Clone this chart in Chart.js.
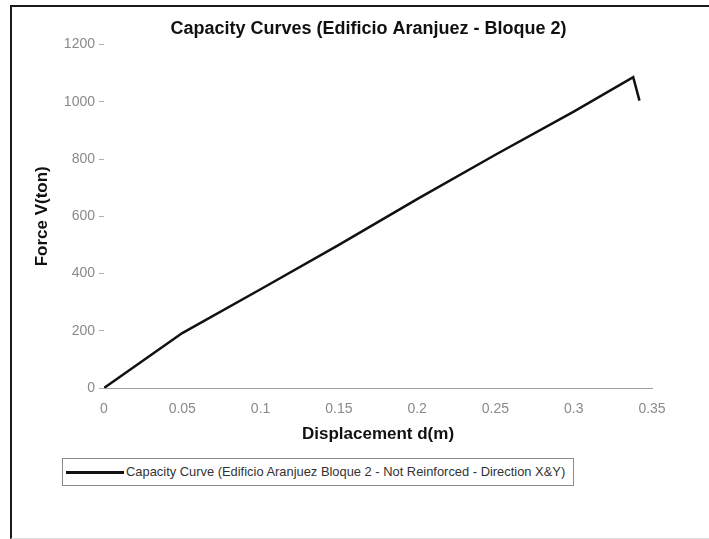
<!DOCTYPE html>
<html>
<head>
<meta charset="utf-8">
<title>Capacity Curves</title>
<script src="https://cdn.jsdelivr.net/npm/chart.js@4.4.0/dist/chart.umd.min.js"></script>
<style>
  body {
    margin: 0;
    width: 709px;
    height: 539px;
    overflow: hidden;
    position: relative;
    background: #fff;
    font-family: "Liberation Sans", Arial, sans-serif;
  }
  #frame {
    position: absolute;
    left: 10px;
    top: 5px;
    width: 699px;
    height: 531px;
    border-top: 2px solid #1a1a1a;
    border-left: 2px solid #1a1a1a;
    border-bottom: 1px solid #dcdcdc;
  }
  #chart { position: absolute; left: 0; top: 0; }
  #legend {
    position: absolute;
    left: 62px;
    top: 458px;
    width: 510px;
    height: 26px;
    border: 1px solid #8a8a8a;
    font-size: 12.9px;
    color: #333;
    line-height: 26px;
    white-space: nowrap;
  }
  #legend .swatch {
    display: inline-block;
    width: 58px;
    height: 3px;
    background: #111;
    vertical-align: middle;
    margin: 0 2px 0 3px;
  }
</style>
</head>
<body>
<div id="frame">
  <canvas id="chart" width="697" height="441"></canvas>
</div>
<div id="legend"></div>

<script>
// values
const displacement = [0, 0.05, 0.1, 0.15, 0.2, 0.25, 0.3, 0.338, 0.342];
const force = [0, 192, 345, 500, 660, 815, 966, 1086, 1004];

const xTicks = [0, 0.05, 0.1, 0.15, 0.2, 0.25, 0.3, 0.35];
const xTickLabels = ["0", "0.05", "0.1", "0.15", "0.2", "0.25", "0.3", "0.35"];
const yTicks = [0, 200, 400, 600, 800, 1000, 1200];
const yTickLabels = ["0", "200", "400", "600", "800", "1000", "1200"];

const seriesLabel = "Capacity Curve (Edificio Aranjuez Bloque 2 - Not Reinforced - Direction X&Y)";

const tickFont = { family: "Liberation Sans, Arial, sans-serif", size: 14 };
const tickColor = "#8a8a8a";

// legend drawn as a boxed html row, like the original
document.getElementById("legend").innerHTML =
  '<span class="swatch"></span>' + seriesLabel;

const ctx = document.getElementById("chart").getContext("2d");
new Chart(ctx, {
  type: "line",
  data: {
    datasets: [{
      label: seriesLabel,
      data: displacement.map((d, i) => ({ x: d, y: force[i] })),
      borderColor: "#111",
      borderWidth: 2.5,
      pointRadius: 0,
      tension: 0,
      fill: false
    }]
  },
  options: {
    responsive: false,
    animation: false,
    layout: { padding: { left: 16, right: 0, top: 0, bottom: 0 } },
    plugins: {
      legend: { display: false },
      tooltip: { enabled: false },
      title: {
        display: true,
        text: "Capacity Curves (Edificio Aranjuez - Bloque 2)",
        color: "#111",
        font: { family: "Liberation Sans, Arial, sans-serif", size: 18, weight: "bold" },
        padding: { top: 11, bottom: 5 }
      }
    },
    scales: {
      x: {
        type: "linear",
        min: 0,
        max: 0.35,
        afterBuildTicks: (scale) => { scale.ticks = xTicks.map(v => ({ value: v })); },
        afterFit: (scale) => { scale.height = 60; scale.paddingRight = 57; },
        ticks: {
          color: tickColor,
          font: tickFont,
          padding: 13,
          maxRotation: 0,
          callback: (v) => xTickLabels[xTicks.indexOf(v)]
        },
        grid: { drawOnChartArea: false, drawTicks: false },
        border: { display: true, color: "#a0a0a0", width: 1 },
        title: {
          display: true,
          text: "Displacement d(m)",
          color: "#111",
          font: { family: "Liberation Sans, Arial, sans-serif", size: 17, weight: "bold" },
          padding: { top: 0, bottom: 3 }
        }
      },
      y: {
        min: 0,
        max: 1200,
        afterBuildTicks: (scale) => { scale.ticks = yTicks.map(v => ({ value: v })); },
        afterFit: (scale) => { scale.width = 76; },
        ticks: {
          color: tickColor,
          font: tickFont,
          padding: 4,
          callback: (v) => yTickLabels[yTicks.indexOf(v)]
        },
        grid: { drawOnChartArea: false, drawTicks: true, tickLength: 5, color: "#b0b0b0" },
        border: { display: false },
        title: {
          display: true,
          text: "Force V(ton)",
          color: "#111",
          font: { family: "Liberation Sans, Arial, sans-serif", size: 17, weight: "bold" },
          padding: { top: 4, bottom: 0 }
        }
      }
    }
  }
});
</script>
</body>
</html>
